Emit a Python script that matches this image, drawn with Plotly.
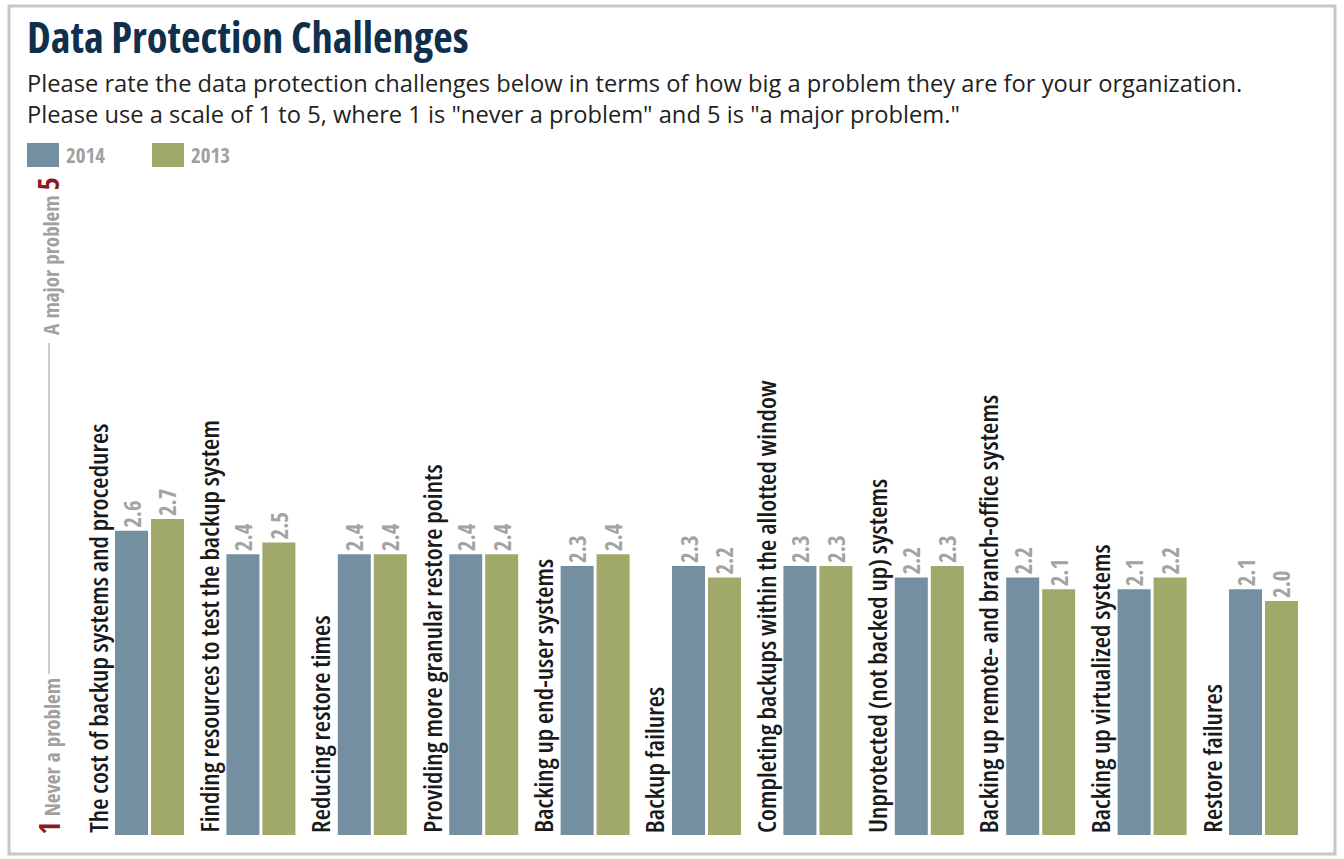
import plotly.graph_objects as go

# Survey data: mean rating on a 1-5 scale
categories = [
    "The cost of backup systems and procedures",
    "Finding resources to test the backup system",
    "Reducing restore times",
    "Providing more granular restore points",
    "Backing up end-user systems",
    "Backup failures",
    "Completing backups within the allotted window",
    "Unprotected (not backed up) systems",
    "Backing up remote- and branch-office systems",
    "Backing up virtualized systems",
    "Restore failures",
]
values_2014 = [2.6, 2.4, 2.4, 2.4, 2.3, 2.3, 2.3, 2.2, 2.2, 2.1, 2.1]
values_2013 = [2.7, 2.5, 2.4, 2.4, 2.4, 2.2, 2.3, 2.3, 2.1, 2.2, 2.0]
series_names = ["2014", "2013"]

COLOR_2014 = "#7490a0"
COLOR_2013 = "#a0a86a"
VALUE_GRAY = "#a3a3a3"
SCALE_RED = "#8b1a1a"
OPEN = "Open Sans, sans-serif"
OPEN_COND = "Open Sans Condensed, Roboto Condensed, sans-serif"

W, H = 1344, 859
M_L, M_R, M_T, M_B = 60, 25, 250, 24
PLOT_W = W - M_L - M_R
PLOT_H = H - M_T - M_B
GROUP_PX = 111.4          # pixel pitch between category groups
FIRST_GROUP_PX = 149.5    # pixel centre of the first bar pair


def px(x):
    return (x - M_L) / PLOT_W


def py(y):
    return (H - M_B - y) / PLOT_H


def narrow(s):
    return f"<span style='font-stretch:condensed'>{s}</span>"


xpos = list(range(len(categories)))

fig = go.Figure()
for name, vals, color in [(series_names[0], values_2014, COLOR_2014),
                          (series_names[1], values_2013, COLOR_2013)]:
    fig.add_trace(go.Bar(
        x=xpos, y=vals, name=name, marker=dict(color=color, line=dict(width=0)),
        text=[f"<b>{v:.1f}</b>" for v in vals], textposition="outside", textangle=-90,
        textfont=dict(family=OPEN_COND, size=23, color=VALUE_GRAY),
        cliponaxis=False, showlegend=False,
    ))

annotations = []
# category labels, rotated, sitting left of each bar pair
for i, cat in enumerate(categories):
    annotations.append(dict(
        x=i - 0.47, y=0, xref="x", yref="y", text=narrow(cat), textangle=-90,
        xanchor="center", yanchor="bottom", showarrow=False,
        font=dict(family=OPEN, size=26, color="#1a1a1a", weight=600),
    ))

# title and question text
annotations.append(dict(
    x=px(25), y=py(37), xref="paper", yref="paper", xanchor="left", yanchor="middle",
    text=narrow("Data Protection Challenges"), showarrow=False,
    font=dict(family=OPEN, size=42.5, color="#0f2f4d", weight=700),
))
annotations.append(dict(
    x=px(25), y=py(98), xref="paper", yref="paper", xanchor="left", yanchor="middle",
    align="left", showarrow=False,
    text=("Please rate the data protection challenges below in terms of how big a problem they are for your organization."
          "<br>Please use a scale of 1 to 5, where 1 is \"never a problem\" and 5 is \"a major problem.\""),
    font=dict(family=OPEN, size=23.7, color="#231f20"),
))

# legend swatches
legend_shapes = []
for name, color, x0 in [(series_names[0], COLOR_2014, 27), (series_names[1], COLOR_2013, 152)]:
    legend_shapes.append(dict(type="rect", xref="paper", yref="paper",
                              x0=px(x0), x1=px(x0 + 32), y0=py(167), y1=py(143),
                              fillcolor=color, line=dict(width=0)))
    annotations.append(dict(
        x=px(x0 + 37), y=py(155), xref="paper", yref="paper", xanchor="left", yanchor="middle",
        text=f"<b>{name}</b>", showarrow=False,
        font=dict(family=OPEN_COND, size=21, color="#a0a0a0"),
    ))

# rating scale on the left
annotations.append(dict(
    x=px(48), y=py(837), xref="paper", yref="paper", xanchor="center", yanchor="bottom",
    textangle=-90, showarrow=False,
    text=f"<span style='color:{SCALE_RED};font-size:28px'><b>1</b></span> <b>Never a problem</b>",
    font=dict(family=OPEN_COND, size=21, color="#a0a0a0"),
))
annotations.append(dict(
    x=px(48), y=py(175), xref="paper", yref="paper", xanchor="center", yanchor="top",
    textangle=-90, showarrow=False,
    text=f"<b>A major problem</b> <span style='color:{SCALE_RED};font-size:28px'><b>5</b></span>",
    font=dict(family=OPEN_COND, size=21, color="#a0a0a0"),
))

shapes = legend_shapes + [
    dict(type="line", xref="paper", yref="paper", x0=px(49), x1=px(49), y0=py(674), y1=py(343),
         line=dict(color="#9a9a9a", width=1)),
    # outer frame
    dict(type="rect", xref="paper", yref="paper", x0=px(9), x1=px(1335), y0=py(854), y1=py(6),
         line=dict(color="#c6c6c6", width=3), fillcolor="rgba(0,0,0,0)"),
]

x_left = -(FIRST_GROUP_PX - M_L) / GROUP_PX
fig.update_layout(
    width=W, height=H, margin=dict(l=M_L, r=M_R, t=M_T, b=M_B),
    paper_bgcolor="white", plot_bgcolor="white",
    barmode="group", bargap=0.354, bargroupgap=0.083,
    xaxis=dict(range=[x_left, x_left + PLOT_W / GROUP_PX],
               showticklabels=False, showgrid=False, zeroline=False, ticks=""),
    yaxis=dict(range=[0, 5], showticklabels=False, showgrid=False, zeroline=False, ticks=""),
    annotations=annotations, shapes=shapes,
)

fig.write_html("out.html")
